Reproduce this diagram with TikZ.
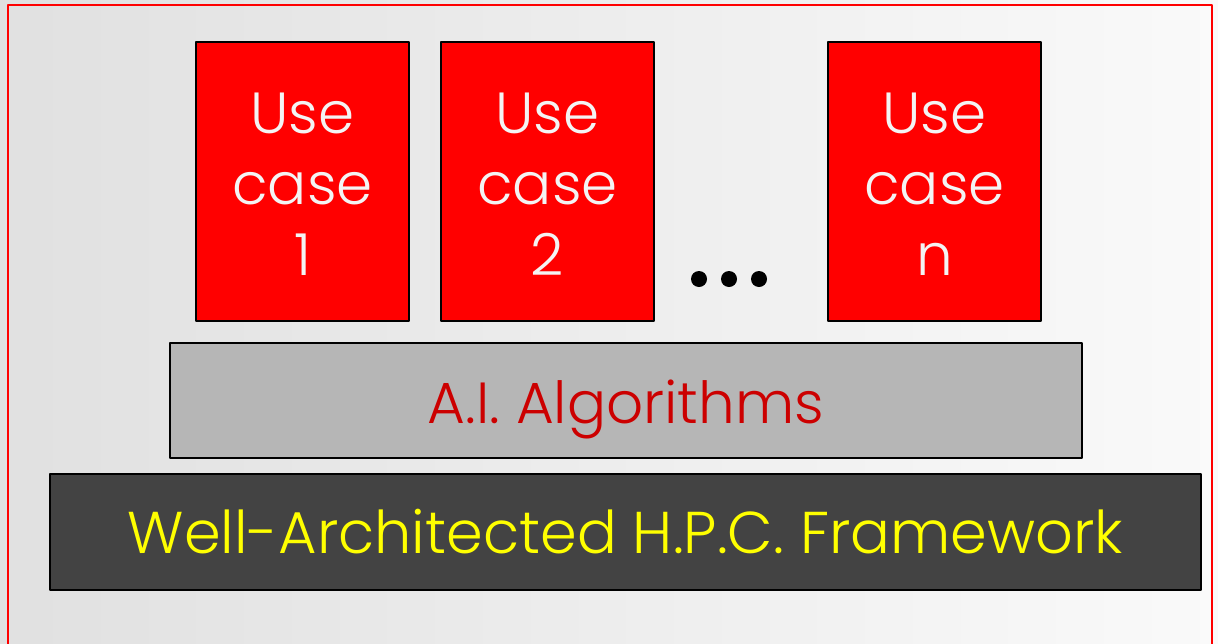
\documentclass[tikz,border=0pt]{standalone}
\usepackage{fontspec}
\setmainfont{Poppins Light}
\usetikzlibrary{positioning}
\definecolor{ucred}{RGB}{255,0,0}
\definecolor{ucwhite}{RGB}{244,244,244}
\definecolor{algogray}{RGB}{182,182,182}
\definecolor{algored}{RGB}{204,0,0}
\definecolor{hpcgray}{RGB}{67,67,67}
\definecolor{hpcyellow}{RGB}{255,255,0}
\begin{document}
\begin{tikzpicture}[line cap=round,line join=round,x=1pt,y=-1pt]
\tikzset{
  usecase/.style={draw=black,line width=1.2pt,fill=ucred,text=ucwhite,
    minimum width=213pt,minimum height=279pt,align=center,
    text height=188pt,text depth=0pt,
    font=\fontsize{58}{71}\selectfont},
  layerbox/.style={draw=black,line width=1.2pt,font=\fontsize{58}{70}\selectfont}
}
\useasboundingbox (0,0) rectangle (1218,643);
\clip (0,0) rectangle (1218,643);
% background
\shade[left color=black!12,right color=black!2] (0,0) rectangle (1218,643);
\draw[red,line width=1.5pt] (8,5) rectangle (1212,660);
% use cases
\node[usecase] (case1) at (302.5,181.5) {Use\\case\\1};
\node[usecase] (case2) at (547.5,181.5) {Use\\case\\2};
\node[usecase] (casen) at (934.5,181.5) {Use\\case\\n};
\foreach \x in {699,729,759}
  \fill[black] (\x,279) circle (8);
% layers
\node[layerbox,fill=algogray,text=algored,minimum width=912pt,minimum height=115pt,
  text height=50pt,text depth=5pt] (algo) at (626,400.5) {A.I. Algorithms};
\node[layerbox,fill=hpcgray,text=hpcyellow,minimum width=1151pt,minimum height=116pt,
  text height=50pt,text depth=8pt,font=\fontsize{59}{70}\selectfont] (hpc) at (625.5,532) {Well-Architected H.P.C. Framework};
\end{tikzpicture}
\end{document}
